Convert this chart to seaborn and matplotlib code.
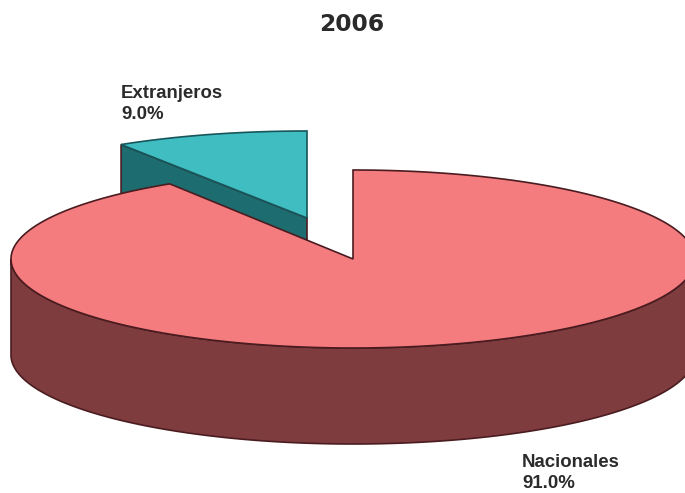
import numpy as np
import pandas as pd
import seaborn as sns
import matplotlib
matplotlib.use("Agg")
import matplotlib.pyplot as plt

categories = ["Extranjeros", "Nacionales"]
shares = [9.0, 91.0]
title = "2006"

top_colors = ["#40BDC1", "#F47B7E"]
side_colors = ["#1C6C70", "#7F3C3E"]

sns.set_theme(style="white")
df = pd.DataFrame({"categoria": categories, "porcentaje": shares})

fig, ax = plt.subplots(figsize=(6.85, 4.93), dpi=100)
ax.set_position([0, 0, 1, 1])
ax.set_xlim(0, 685)
ax.set_ylim(493, 0)
ax.axis("off")
sns.despine(ax=ax, left=True, bottom=True)

EDGE = "#4A1C20"
CX, CY, RX, RY, DEPTH = 353, 259, 342, 89, 96
EX, EY, ERX, ERY = 307, 218, 347, 87


def rim(theta, cx, cy, rx, ry):
    """theta in radians, clockwise from the top of the ellipse."""
    return cx + rx * np.sin(theta), cy - ry * np.cos(theta)


sweep_ext = np.deg2rad(df.porcentaje[0] * 3.6)

# exploded slice: side wall, then top face
lx, ly = rim(-sweep_ext, EX, EY, ERX, ERY)
ax.fill([lx, EX, EX, lx], [ly, EY, EY + DEPTH, ly + DEPTH],
        facecolor=side_colors[0], edgecolor=EDGE, lw=1.2, zorder=1)
t = np.linspace(-sweep_ext, 0, 60)
x, y = rim(t, EX, EY, ERX, ERY)
ax.fill(np.r_[EX, x], np.r_[EY, y],
        facecolor=top_colors[0], edgecolor="#17565A", lw=1.2, zorder=2)

# main slice: outer wall on the front half, then top face
t = np.linspace(np.pi / 2, 3 * np.pi / 2, 200)
x, y = rim(t, CX, CY, RX, RY)
ax.fill(np.r_[x, x[::-1]], np.r_[y, y[::-1] + DEPTH],
        facecolor=side_colors[1], edgecolor=EDGE, lw=1.2, zorder=3)
t = np.linspace(0, 2 * np.pi - sweep_ext, 400)
x, y = rim(t, CX, CY, RX, RY)
ax.fill(np.r_[CX, x], np.r_[CY, y],
        facecolor=top_colors[1], edgecolor=EDGE, lw=1.2, zorder=4)

label_font = dict(family="Liberation Sans", fontweight="bold",
                  fontsize=13.4, color="#2B2B2B", ha="left", va="baseline",
                  linespacing=1.3)
ax.text(121, 119, f"{df.categoria[0]}\n{df.porcentaje[0]:.1f}%", **label_font, zorder=6)
ax.text(522, 488, f"{df.categoria[1]}\n{df.porcentaje[1]:.1f}%", **label_font, zorder=6)
ax.text(352, 31, title, family="DejaVu Sans", fontweight="bold", fontsize=16.8,
        color="#2A2A2A", ha="center", va="baseline", zorder=6)

fig.savefig("out.png", dpi=100)
